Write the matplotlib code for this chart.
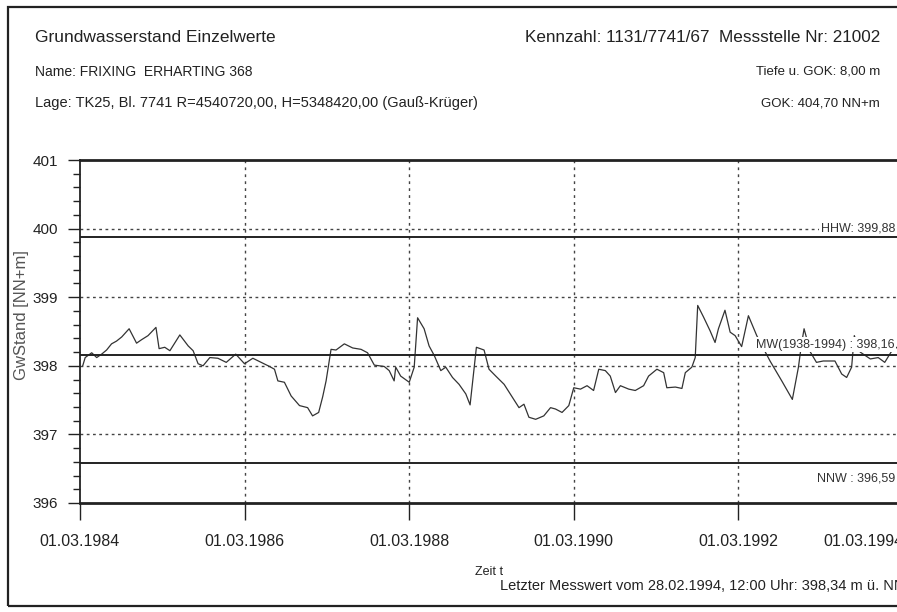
import matplotlib
matplotlib.use('Agg')
import matplotlib.pyplot as plt
import matplotlib.dates as mdates
from matplotlib.patches import Rectangle
from matplotlib.ticker import AutoMinorLocator, FixedLocator
import pandas as pd

plt.rcParams['font.family'] = ['Liberation Sans Narrow', 'Liberation Sans', 'DejaVu Sans']

dates = [
    "1984-03-13", "1984-03-24", "1984-04-22", "1984-05-14", "1984-06-05", "1984-06-27",
    "1984-07-19", "1984-08-10", "1984-09-02", "1984-10-05", "1984-11-07", "1984-11-29",
    "1984-12-28", "1985-02-01", "1985-02-15", "1985-03-12", "1985-04-04", "1985-05-18",
    "1985-06-24", "1985-07-16", "1985-08-07", "1985-08-29", "1985-09-28", "1985-11-03",
    "1985-12-10", "1986-01-21", "1986-03-01", "1986-04-07", "1986-05-14", "1986-06-20",
    "1986-07-12", "1986-07-27", "1986-08-25", "1986-09-24", "1986-10-31", "1986-12-06",
    "1986-12-28", "1987-01-24", "1987-02-11", "1987-02-26", "1987-03-20", "1987-04-11",
    "1987-05-18", "1987-06-24", "1987-07-31", "1987-08-29", "1987-09-28", "1987-11-11",
    "1987-12-03", "1987-12-25", "1988-01-01", "1988-01-23", "1988-03-01", "1988-03-23",
    "1988-04-07", "1988-05-06", "1988-05-28", "1988-06-20", "1988-07-19", "1988-08-10",
    "1988-09-09", "1988-10-08", "1988-11-07", "1988-11-26", "1988-12-06", "1988-12-24",
    "1989-01-27", "1989-02-18", "1989-03-20", "1989-04-26", "1989-06-02", "1989-07-01",
    "1989-07-23", "1989-08-14", "1989-09-13", "1989-10-19", "1989-11-18", "1989-12-10",
    "1990-01-08", "1990-02-07", "1990-03-01", "1990-03-31", "1990-04-29", "1990-05-28",
    "1990-06-20", "1990-07-19", "1990-08-10", "1990-09-02", "1990-09-24", "1990-10-31",
    "1990-11-29", "1991-01-05", "1991-01-27", "1991-03-05", "1991-04-04", "1991-04-18",
    "1991-05-26", "1991-06-24", "1991-07-09", "1991-08-07", "1991-08-22", "1991-09-02",
    "1991-09-28", "1991-10-27", "1991-11-18", "1991-12-03", "1992-01-01", "1992-01-24",
    "1992-02-15", "1992-03-15", "1992-04-14", "1992-05-21", "1992-06-20", "1992-07-19",
    "1992-09-09", "1992-10-26", "1992-11-22", "1992-12-05", "1992-12-17", "1993-01-14",
    "1993-02-10", "1993-03-12", "1993-05-03", "1993-06-02", "1993-06-24", "1993-07-16",
    "1993-07-28", "1993-08-23", "1993-10-07", "1993-11-11", "1993-12-10", "1994-01-07",
    "1994-02-28",
]
levels = [
    398.00, 398.12, 398.19, 398.12, 398.17, 398.23,
    398.32, 398.36, 398.42, 398.54, 398.33, 398.38,
    398.44, 398.56, 398.25, 398.27, 398.22, 398.45,
    398.29, 398.22, 398.03, 398.00, 398.12, 398.11,
    398.05, 398.17, 398.03, 398.11, 398.05, 397.99,
    397.95, 397.78, 397.76, 397.56, 397.42, 397.39,
    397.27, 397.32, 397.55, 397.78, 398.24, 398.23,
    398.32, 398.26, 398.24, 398.19, 398.01, 397.99,
    397.93, 397.78, 397.98, 397.85, 397.76, 397.98,
    398.70, 398.54, 398.29, 398.15, 397.93, 397.98,
    397.83, 397.73, 397.59, 397.43, 397.73, 398.27,
    398.23, 397.95, 397.85, 397.73, 397.54, 397.39,
    397.44, 397.25, 397.22, 397.27, 397.39, 397.37,
    397.32, 397.42, 397.68, 397.66, 397.71, 397.64,
    397.95, 397.93, 397.85, 397.61, 397.71, 397.66,
    397.64, 397.71, 397.85, 397.95, 397.90, 397.68,
    397.69, 397.67, 397.90, 397.98, 398.12, 398.88,
    398.71, 398.51, 398.34, 398.54, 398.81, 398.49,
    398.44, 398.28, 398.73, 398.44, 398.25, 398.07,
    397.78, 397.51, 397.98, 398.30, 398.54, 398.20,
    398.05, 398.07, 398.07, 397.88, 397.83, 397.98,
    398.44, 398.20, 398.10, 398.12, 398.05, 398.20,
    398.34,
]

hhw = 399.88
mw = 398.16
nnw = 396.59
y_ticks = [396, 397, 398, 399, 400, 401]
x_ticks = ["1984-03-01", "1986-03-01", "1988-03-01", "1990-03-01", "1992-03-01", "1994-03-01"]

W, H = 897, 612


def fp(x, y):
    return x / W, 1 - y / H


fig = plt.figure(figsize=(W / 100, H / 100), dpi=100)

# Rahmen um das Blatt
fig.patches.append(Rectangle(fp(8, 606), 1.2, (606 - 7) / H, transform=fig.transFigure,
                             fill=False, lw=1.6, ec='#222222'))

ax = fig.add_axes([80 / W, 1 - 503 / H, (903 - 80) / W, (503 - 160) / H])

t = pd.to_datetime(dates)
ax.plot(t, levels, color='#333333', lw=0.9, zorder=3)

for v in (hhw, mw, nnw):
    ax.axhline(v, color='#222222', lw=1.4, zorder=5)

ax.set_ylim(396, 401)
ax.set_xlim(pd.Timestamp("1984-03-01"), pd.Timestamp("1994-02-28"))

ax.yaxis.set_major_locator(FixedLocator(y_ticks))
ax.yaxis.set_minor_locator(AutoMinorLocator(5))
xt = pd.to_datetime(x_ticks)
ax.set_xticks(xt)
ax.xaxis.set_major_formatter(mdates.DateFormatter('%d.%m.%Y'))

ax.tick_params(axis='y', which='major', length=9, width=1, pad=7, labelsize=11, colors='#222222')
ax.tick_params(axis='y', which='minor', length=5, width=1, colors='#222222')
ax.tick_params(axis='x', which='major', length=12, width=1, pad=10, labelsize=11.5, colors='#222222')
labels = ax.get_xticklabels()
labels[-1].set_ha('right')

# Gitter
for v in [397, 398, 399, 400]:
    ax.axhline(v, color='#444444', lw=1, ls=(0, (2, 2.5)), zorder=1)
for d in xt[1:]:
    ax.axvline(d, color='#444444', lw=1, ls=(0, (2, 3)), zorder=1)

for s in ('top', 'bottom'):
    ax.spines[s].set_linewidth(2)
    ax.spines[s].set_color('#222222')
ax.spines['left'].set_linewidth(1.3)
ax.spines['left'].set_color('#222222')

tr = ax.get_yaxis_transform()
bb = dict(facecolor='white', edgecolor='none', pad=1)
xr = (895 - 80) / (903 - 80)
ax.text(xr, 399.92, "HHW: 399,88", transform=tr, ha='right', va='bottom', fontsize=9,
        color='#333333', bbox=bb, zorder=4)
ax.text(xr, 398.22, "MW(1938-1994) : 398,16", transform=tr, ha='right', va='bottom', fontsize=9,
        color='#333333', bbox=bb, zorder=4)
ax.text(xr, 396.35, "NNW : 396,59", transform=tr, ha='right', va='center', fontsize=9,
        color='#333333', bbox=bb, zorder=4)

# Kopfzeilen
c = '#222222'
fig.text(*fp(35, 38), "Grundwasserstand Einzelwerte", ha='left', va='center', fontsize=12.5, color=c)
fig.text(*fp(35, 72), "Name: FRIXING  ERHARTING 368", ha='left', va='center', fontsize=10, color=c)
fig.text(*fp(35, 103), "Lage: TK25, Bl. 7741 R=4540720,00, H=5348420,00 (Gauß-Krüger)",
         ha='left', va='center', fontsize=10.5, color=c)
fig.text(*fp(880, 38), "Kennzahl: 1131/7741/67  Messstelle Nr: 21002", ha='right', va='center',
         fontsize=12.3, color=c)
fig.text(*fp(880, 72), "Tiefe u. GOK: 8,00 m", ha='right', va='center', fontsize=9.5, color=c)
fig.text(*fp(880, 103), "GOK: 404,70 NN+m", ha='right', va='center', fontsize=9.5, color=c)

fig.text(*fp(22, 315), "GwStand [NN+m]", rotation=90, ha='center', va='center', fontsize=12,
         color='#555555')
fig.text(*fp(475, 572), "Zeit t", ha='left', va='center', fontsize=9, color=c)
fig.text(*fp(500, 586), "Letzter Messwert vom 28.02.1994, 12:00 Uhr: 398,34 m ü. NN",
         ha='left', va='center', fontsize=10.5, color=c)

fig.savefig("out.png", dpi=100)
